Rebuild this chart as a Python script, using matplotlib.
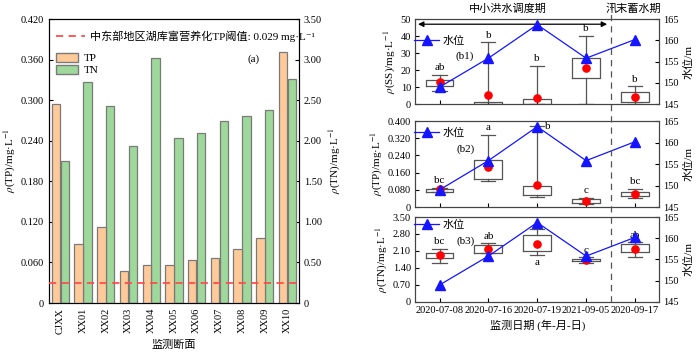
import matplotlib
matplotlib.use("Agg")
import matplotlib.pyplot as plt
from matplotlib.patches import Patch
from matplotlib.lines import Line2D
from matplotlib.transforms import blended_transform_factory
import numpy as np

plt.rcParams['font.family'] = ['Liberation Serif', 'Noto Sans CJK SC', 'DejaVu Serif']
plt.rcParams['mathtext.fontset'] = 'stix'
plt.rcParams['font.size'] = 7.5
plt.rcParams['axes.unicode_minus'] = False

# ---------------- data: panel (a) ----------------
sites = ['CJXX', 'XX01', 'XX02', 'XX03', 'XX04', 'XX05', 'XX06', 'XX07', 'XX08', 'XX09', 'XX10']
tp_site = [0.294, 0.088, 0.112, 0.048, 0.056, 0.056, 0.064, 0.066, 0.080, 0.096, 0.371]
tn_site = [1.75, 2.72, 2.43, 1.93, 3.02, 2.04, 2.09, 2.24, 2.31, 2.38, 2.76]
tp_threshold = 0.029
tp_ticks = [0, 0.060, 0.120, 0.180, 0.240, 0.300, 0.360, 0.420]
tp_ticklabels = ['0', '0.060', '0.120', '0.180', '0.240', '0.300', '0.360', '0.420']
tn_ticks = [0, 0.5, 1.0, 1.5, 2.0, 2.5, 3.0, 3.5]
tn_ticklabels = ['0', '0.50', '1.00', '1.50', '2.00', '2.50', '3.00', '3.50']

# ---------------- data: panels (b) ----------------
dates = ['2020-07-08', '2020-07-16', '2020-07-19', '2021-09-05', '2020-09-17']
water_level = [149.0, 155.8, 163.7, 155.8, 160.2]

ss_whislo = [7.8, 0.0, 0.0, 0.0, 0.0]
ss_q1 = [10.4, 0.0, 0.0, 15.2, 1.2]
ss_q3 = [13.9, 1.2, 2.9, 27.0, 7.2]
ss_whishi = [17.4, 36.5, 22.7, 40.2, 10.5]
ss_mean = [12.7, 5.1, 3.7, 21.5, 4.1]
ss_letters = ['ab', 'b', 'b', 'b', 'b']

tpb_whislo = [0.068, 0.119, 0.047, 0.016, 0.043]
tpb_q1 = [0.071, 0.132, 0.056, 0.020, 0.053]
tpb_q3 = [0.085, 0.219, 0.098, 0.039, 0.068]
tpb_whishi = [0.090, 0.336, 0.377, 0.042, 0.084]
tpb_mean = [0.082, 0.188, 0.105, 0.029, 0.062]
tpb_letters = ['bc', 'a', 'b', 'c', 'bc']

tnb_whislo = [1.60, 2.00, 1.93, 1.59, 1.87]
tnb_q1 = [1.81, 2.02, 2.09, 1.69, 2.06]
tnb_q3 = [2.02, 2.33, 2.74, 1.78, 2.39]
tnb_whishi = [2.19, 2.41, 3.02, 1.85, 2.46]
tnb_mean = [1.92, 2.17, 2.40, 1.71, 2.18]
tnb_letters = ['bc', 'ab', 'a', 'c', 'ab']

ss_ticks = [0, 10, 20, 30, 40, 50]
ss_ticklabels = ['0', '10', '20', '30', '40', '50']
tpb_ticks = [0, 0.08, 0.16, 0.24, 0.32, 0.40]
tpb_ticklabels = ['0', '0.080', '0.160', '0.240', '0.320', '0.400']
tnb_ticks = [0, 0.7, 1.4, 2.1, 2.8, 3.5]
tnb_ticklabels = ['0', '0.70', '1.40', '2.10', '2.80', '3.50']
wl_ticks = [145, 150, 155, 160, 165]

TP_COLOR = '#FFCA99'
TN_COLOR = '#9ED99B'
EDGE = '#7a7a7a'
BLUE = '#1515FF'

fig = plt.figure(figsize=(7.0, 3.54), dpi=100)

# ================= panel (a) =================
ax = fig.add_axes([0.070, 0.144, 0.357, 0.802])
ax2 = ax.twinx()
x = np.arange(len(sites))
w = 0.37
ax.bar(x - w / 2 - 0.01, tp_site, width=w, color=TP_COLOR, edgecolor=EDGE, linewidth=0.9, zorder=2)
ax2.bar(x + w / 2 + 0.01, tn_site, width=w, color=TN_COLOR, edgecolor=EDGE, linewidth=0.9, zorder=2)
ax.axhline(tp_threshold, color='#FF4D4D', ls=(0, (4, 3)), lw=1.3, zorder=5)
ax.set_zorder(ax2.get_zorder() + 1)
ax.patch.set_visible(False)
ax.set_xlim(-0.5, len(sites) - 0.5)
ax.set_ylim(0, 0.42)
ax2.set_ylim(0, 3.5)
ax.set_yticks(tp_ticks)
ax.set_yticklabels(tp_ticklabels)
ax2.set_yticks(tn_ticks)
ax2.set_yticklabels(tn_ticklabels)
ax.set_xticks(x)
ax.set_xticklabels(sites, rotation=90)
ax.tick_params(direction='in', length=3, width=0.8)
ax2.tick_params(direction='in', length=3, width=0.8)
ax.tick_params(axis='x', length=0)
ax.set_ylabel(r'$\it{\rho}$(TP)/mg·L$^{-1}$', labelpad=2, fontsize=8)
ax2.set_ylabel(r'$\it{\rho}$(TN)/mg·L$^{-1}$', labelpad=4, fontsize=8)
ax.set_xlabel('监测断面', labelpad=4, fontsize=8)
leg1 = ax.legend([Line2D([0], [0], color='#FF4D4D', ls=(0, (4, 3)), lw=1.3)],
                 ['中东部地区湖库富营养化TP阈值: 0.029 mg·L⁻¹'],
                 loc='upper left', bbox_to_anchor=(0.0, 0.985), frameon=False,
                 handlelength=2.6, borderaxespad=0.2, handletextpad=0.5,
                 prop=dict(family=['Liberation Serif', 'Noto Sans CJK SC', 'DejaVu Sans'], size=8))
ax.add_artist(leg1)
ax.legend([Patch(facecolor=TP_COLOR, edgecolor=EDGE), Patch(facecolor=TN_COLOR, edgecolor=EDGE)],
          ['TP', 'TN'], loc='upper left', bbox_to_anchor=(0.0, 0.905), frameon=False,
          handlelength=2.0, handleheight=0.9, labelspacing=0.15, borderaxespad=0.2,
          handletextpad=0.5, fontsize=8)
ax.text(0.82, 0.86, '(a)', transform=ax.transAxes, ha='center', va='center', fontsize=8)

# ================= panels (b) =================
def make_stats(wlo, q1, q3, whi, mean):
    stats = []
    for i in range(len(wlo)):
        stats.append(dict(whislo=wlo[i], q1=q1[i], med=q1[i], q3=q3[i], whishi=whi[i],
                          mean=mean[i], fliers=[]))
    return stats

panels = [
    dict(rect=[0.593, 0.706, 0.349, 0.240], lo=ss_whislo, q1=ss_q1, q3=ss_q3, hi=ss_whishi,
         mean=ss_mean, letters=ss_letters, ylim=(0, 50), ticks=ss_ticks, tl=ss_ticklabels,
         ylabel=r'$\it{\rho}$(SS)/mg·L$^{-1}$', tag='(b1)', tagy=0.565, legy=0.74),
    dict(rect=[0.593, 0.415, 0.349, 0.243], lo=tpb_whislo, q1=tpb_q1, q3=tpb_q3, hi=tpb_whishi,
         mean=tpb_mean, letters=tpb_letters, ylim=(0, 0.4), ticks=tpb_ticks, tl=tpb_ticklabels,
         ylabel=r'$\it{\rho}$(TP)/mg·L$^{-1}$', tag='(b2)', tagy=0.674, legy=0.86),
    dict(rect=[0.593, 0.147, 0.349, 0.240], lo=tnb_whislo, q1=tnb_q1, q3=tnb_q3, hi=tnb_whishi,
         mean=tnb_mean, letters=tnb_letters, ylim=(0, 3.5), ticks=tnb_ticks, tl=tnb_ticklabels,
         ylabel=r'$\it{\rho}$(TN)/mg·L$^{-1}$', tag='(b3)', tagy=0.72, legy=0.905),
]

xb = np.arange(len(dates))
axes_b = []
for k, p in enumerate(panels):
    a = fig.add_axes(p['rect'])
    t = a.twinx()
    axes_b.append(a)
    stats = make_stats(p['lo'], p['q1'], p['q3'], p['hi'], p['mean'])
    a.bxp(stats, positions=xb, widths=0.57, showfliers=False, showmeans=False,
          boxprops=dict(color='#555555', lw=0.9),
          whiskerprops=dict(color='#555555', lw=0.9),
          capprops=dict(color='#555555', lw=0.9),
          medianprops=dict(lw=0), capwidths=0.29)
    a.plot(xb, p['mean'], 'o', color='#FF0000', ms=5.2, zorder=4)
    t.plot(xb, water_level, '-', color=BLUE, lw=0.9, marker='^', ms=6.5, zorder=5)
    a.set_zorder(t.get_zorder() - 1)
    t.patch.set_visible(False)
    a.set_xlim(-0.5, len(dates) - 0.5)
    a.set_ylim(*p['ylim'])
    a.set_yticks(p['ticks'])
    a.set_yticklabels(p['tl'])
    t.set_ylim(145, 165)
    t.set_yticks(wl_ticks)
    a.set_xticks(xb)
    if k == 2:
        a.set_xticklabels(dates)
        a.set_xlabel('监测日期 (年-月-日)', labelpad=3, fontsize=8)
    else:
        a.set_xticklabels([])
    a.tick_params(direction='in', length=3, width=0.8, pad=3)
    t.tick_params(direction='in', length=3, width=0.8, pad=3)
    a.set_ylabel(p['ylabel'], labelpad=2, fontsize=8)
    t.set_ylabel('水位/m', labelpad=3, fontsize=8)
    for s in list(a.spines.values()) + list(t.spines.values()):
        s.set_color('#444444')
    # letters
    yr = p['ylim'][1] - p['ylim'][0]
    for i, lab in enumerate(p['letters']):
        if k == 1 and i == 2:
            a.text(xb[i] + 0.22, p['hi'][i], lab, ha='center', va='center', fontsize=8)
        elif k == 2 and i == 2:
            a.text(xb[i], p['lo'][i] - 0.03 * yr, lab, ha='center', va='top', fontsize=8)
        else:
            a.text(xb[i], p['hi'][i] + 0.03 * yr, lab, ha='center', va='bottom', fontsize=8)
    a.text(0.205, p['tagy'], p['tag'], transform=a.transAxes, ha='center', va='center', fontsize=8)
    t.legend([Line2D([0], [0], color=BLUE, lw=0.9, marker='^', ms=6.5)], ['水位'],
             loc='center left', bbox_to_anchor=(-0.03, p['legy']), frameon=False,
             handlelength=2.2, borderaxespad=0.2, handletextpad=0.3, fontsize=8)

# arrow & period labels on b1
a1 = axes_b[0]
a1.annotate('', xy=(3.43, 47), xytext=(-0.44, 47),
            arrowprops=dict(arrowstyle='<|-|>', color='black', lw=0.9,
                            mutation_scale=8, shrinkA=0, shrinkB=0))
tr1 = blended_transform_factory(a1.transData, a1.transAxes)
a1.text(1.39, 1.12, '中小洪水调度期', transform=tr1, ha='center', va='center', fontsize=8)
a1.text(3.97, 1.12, '汛末蓄水期', transform=tr1, ha='center', va='center', fontsize=8)

# vertical dashed divider through all panels
a3 = axes_b[2]
trv = blended_transform_factory(a3.transData, fig.transFigure)
fig.add_artist(Line2D([3.5, 3.5], [0.147, 0.995], transform=trv, color='#555555',
                      ls=(0, (5, 4)), lw=0.9))

fig.savefig('out.png', dpi=100)
